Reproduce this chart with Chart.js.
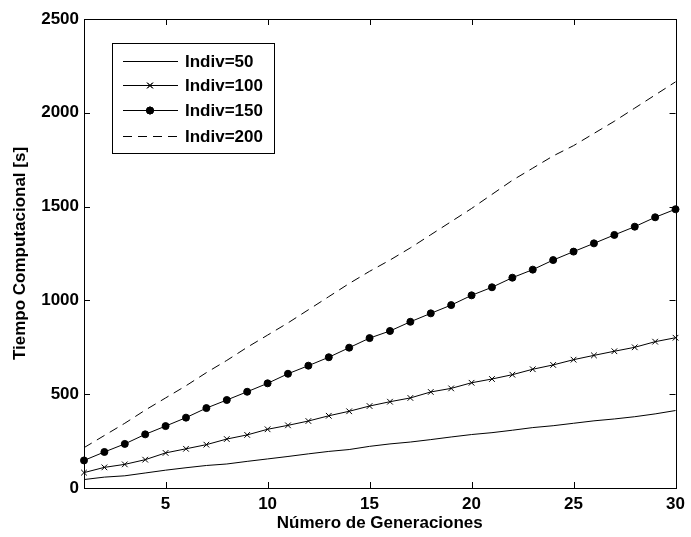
<!DOCTYPE html>
<html>
<head>
<meta charset="utf-8">
<script src="https://cdn.jsdelivr.net/npm/chart.js@4.4.1/dist/chart.umd.min.js"></script>
<style>
  html, body { margin: 0; padding: 0; background: #fff; }
  #graph { display: block; }
</style>
</head>
<body>
<canvas id="graph" width="691" height="537"></canvas>
<script>
const generations = [1, 2, 3, 4, 5, 6, 7, 8, 9, 10, 11, 12, 13, 14, 15, 16, 17, 18, 19, 20, 21, 22, 23, 24, 25, 26, 27, 28, 29, 30];

const indiv50 = [45, 58, 65, 80, 95, 108, 120, 128, 142, 155, 168, 182, 195, 205, 222, 235, 245, 258, 272, 285, 295, 308, 322, 332, 345, 358, 368, 380, 395, 413];
const indiv100 = [82, 110, 126, 151, 187, 209, 231, 261, 283, 313, 334, 357, 385, 409, 437, 460, 480, 512, 531, 561, 581, 604, 633, 656, 684, 707, 729, 750, 780, 801];
const indiv150 = [147, 192, 235, 286, 330, 375, 426, 469, 513, 558, 609, 652, 697, 748, 799, 837, 886, 931, 975, 1027, 1070, 1121, 1164, 1215, 1260, 1304, 1349, 1393, 1443, 1486];
const indiv200 = [215, 280, 345, 415, 480, 545, 615, 680, 750, 815, 880, 950, 1020, 1090, 1155, 1215, 1280, 1350, 1420, 1490, 1565, 1640, 1705, 1770, 1825, 1890, 1955, 2025, 2095, 2165];

const seriesLabels = ["Indiv=50", "Indiv=100", "Indiv=150", "Indiv=200"];
const xTicks = [5, 10, 15, 20, 25, 30];
const yTicks = [0, 500, 1000, 1500, 2000, 2500];

const FONT = "'Liberation Sans', Arial, sans-serif";

const points = (vals) => generations.map((g, i) => ({ x: g, y: vals[i] }));

// matlab style box with inward ticks + legend inside the axes
const matlabBox = {
  id: "matlabBox",
  afterDatasetsDraw(chart) {
    const ctx = chart.ctx;
    const a = chart.chartArea;
    const xs = chart.scales.x;
    const ys = chart.scales.y;
    ctx.save();
    ctx.strokeStyle = "#000";
    ctx.lineWidth = 1;
    ctx.strokeRect(Math.round(a.left) + 0.5, Math.round(a.top) + 0.5, Math.round(a.width), Math.round(a.height));
    ctx.beginPath();
    xTicks.forEach((v) => {
      const px = Math.round(xs.getPixelForValue(v)) + 0.5;
      ctx.moveTo(px, a.bottom); ctx.lineTo(px, a.bottom - 6);
      ctx.moveTo(px, a.top); ctx.lineTo(px, a.top + 6);
    });
    yTicks.forEach((v) => {
      const py = Math.round(ys.getPixelForValue(v)) + 0.5;
      ctx.moveTo(a.left, py); ctx.lineTo(a.left + 6, py);
      ctx.moveTo(a.right, py); ctx.lineTo(a.right - 6, py);
    });
    ctx.stroke();

    // legend
    const bx = 112, by = 43, bw = 162, bh = 110;
    ctx.fillStyle = "#fff";
    ctx.fillRect(bx, by, bw, bh);
    ctx.strokeRect(bx + 0.5, by + 0.5, bw, bh);
    const rows = [61, 85, 110, 136];
    ctx.font = "bold 17px " + FONT;
    ctx.textBaseline = "middle";
    chart.data.datasets.forEach((ds, i) => {
      const y = rows[i] + 0.5;
      ctx.strokeStyle = "#000";
      ctx.lineWidth = 1;
      ctx.setLineDash(ds.borderDash || []);
      ctx.beginPath();
      ctx.moveTo(123, y); ctx.lineTo(178, y);
      ctx.stroke();
      ctx.setLineDash([]);
      if (ds.pointRadius > 0) {
        Chart.helpers.drawPoint(ctx, {
          pointStyle: ds.pointStyle,
          radius: ds.pointRadius,
          borderWidth: ds.pointBorderWidth || 1,
          rotation: 0
        }, 150, y);
        ctx.fillStyle = "#000";
        if (ds.pointStyle === "circle") { ctx.fill(); }
        ctx.stroke();
      }
      ctx.fillStyle = "#000";
      ctx.fillText(ds.label, 185, rows[i] + 1);
    });
    ctx.restore();
  }
};

const whiteBg = {
  id: "whiteBg",
  beforeDraw(chart) {
    const ctx = chart.ctx;
    ctx.save();
    ctx.fillStyle = "#fff";
    ctx.fillRect(0, 0, chart.width, chart.height);
    ctx.restore();
  }
};

const chart = new Chart(document.getElementById("graph").getContext("2d"), {
  type: "line",
  data: {
    datasets: [
      {
        label: seriesLabels[0],
        data: points(indiv50),
        borderColor: "#000",
        borderWidth: 1,
        pointRadius: 0,
        tension: 0,
        clip: false
      },
      {
        label: seriesLabels[1],
        data: points(indiv100),
        borderColor: "#000",
        backgroundColor: "#000",
        borderWidth: 1,
        pointStyle: "crossRot",
        pointRadius: 4,
        pointBorderWidth: 1,
        pointBorderColor: "#000",
        tension: 0,
        clip: false
      },
      {
        label: seriesLabels[2],
        data: points(indiv150),
        borderColor: "#000",
        backgroundColor: "#000",
        borderWidth: 1,
        pointStyle: "circle",
        pointRadius: 3.5,
        pointBorderWidth: 1,
        pointBackgroundColor: "#000",
        pointBorderColor: "#000",
        tension: 0,
        clip: false
      },
      {
        label: seriesLabels[3],
        data: points(indiv200),
        borderColor: "#000",
        borderWidth: 1,
        borderDash: [9, 6],
        pointRadius: 0,
        tension: 0,
        clip: false
      }
    ]
  },
  plugins: [whiteBg, matlabBox],
  options: {
    responsive: false,
    animation: false,
    layout: { padding: { top: 19, right: 12, left: 0, bottom: 0 } },
    plugins: {
      legend: { display: false },
      tooltip: { enabled: false }
    },
    scales: {
      x: {
        type: "linear",
        min: 1,
        max: 30,
        afterBuildTicks: (s) => { s.ticks = xTicks.map((v) => ({ value: v })); },
        afterFit: (s) => { s.height = 49; },
        grid: { display: false, drawTicks: false },
        border: { display: false },
        ticks: {
          color: "#000",
          font: { family: FONT, size: 17, weight: "bold" },
          padding: 6,
          maxRotation: 0,
          callback: (v) => String(v)
        },
        title: {
          display: true,
          text: "Número de Generaciones",
          color: "#000",
          font: { family: FONT, size: 17, weight: "bold" },
          padding: { top: 2, bottom: 3 }
        }
      },
      y: {
        min: 0,
        max: 2500,
        afterBuildTicks: (s) => { s.ticks = yTicks.map((v) => ({ value: v })); },
        afterFit: (s) => { s.width = 84; },
        grid: { display: false, drawTicks: false },
        border: { display: false },
        ticks: {
          color: "#000",
          font: { family: FONT, size: 17, weight: "bold" },
          padding: 5,
          callback: (v) => String(v)
        },
        title: {
          display: true,
          text: "Tiempo Computacional [s]",
          color: "#000",
          font: { family: FONT, size: 17, weight: "bold" },
          padding: { top: 10, bottom: 4 }
        }
      }
    }
  }
});
</script>
</body>
</html>
